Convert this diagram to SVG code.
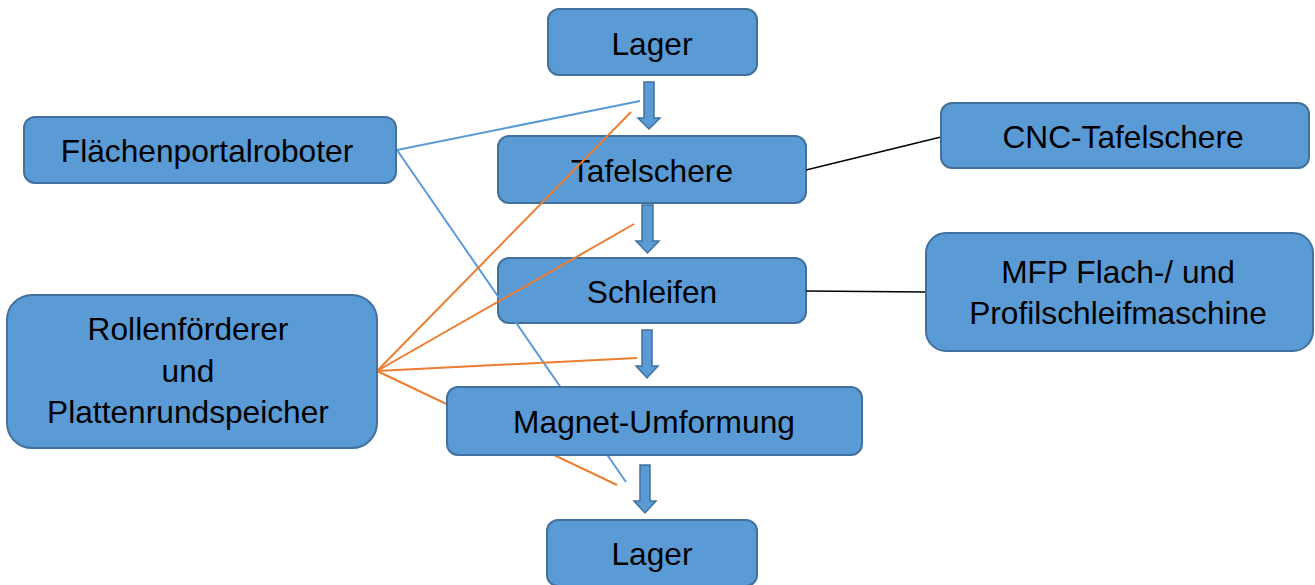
<svg xmlns="http://www.w3.org/2000/svg" width="1315" height="585" viewBox="0 0 1315 585">
  <style>
    .box { fill: #5B9BD5; stroke: #41719C; stroke-width: 2; }
    .flow { fill: #5B9BD5; stroke: #41719C; stroke-width: 1.5; }
    .lbl { font-family: "Liberation Sans", Arial, sans-serif; font-size: 31.7px; fill: #000; text-anchor: middle; }
    .orange { stroke: #ED7D31; stroke-width: 2; fill: none; }
    .blue { stroke: #5B9BD5; stroke-width: 2; fill: none; }
    .black { stroke: #000; stroke-width: 1.3; fill: none; }
  </style>
  <rect width="1315" height="585" fill="#fff"/>

  <!-- process steps (below the assignment lines) -->
  <g id="lager-top">
    <rect class="box" x="548" y="9" width="209" height="66" rx="11"/>
    <text class="lbl" x="652" y="55">Lager</text>
  </g>
  <g id="tafelschere">
    <rect class="box" x="498" y="136" width="308" height="67" rx="11"/>
    <text class="lbl" x="652" y="182">Tafelschere</text>
  </g>
  <g id="schleifen">
    <rect class="box" x="498" y="258" width="308" height="65" rx="11"/>
    <text class="lbl" x="652" y="303">Schleifen</text>
  </g>

  <!-- flow arrows between steps -->
  <g id="flow-arrows">
    <path class="flow" d="M644,82 H654 V118 H660 L649,129 L638,118 H644 Z"/>
    <path class="flow" d="M642,205 H653 V241 H659 L647.5,253 L636,241 H642 Z"/>
    <path class="flow" d="M642,330 H652 V366 H658 L647,378 L636,366 H642 Z"/>
    <path class="flow" d="M640,465 H650 V501 H656 L645,513 L634,501 H640 Z"/>
  </g>

  <!-- assignment lines: machines to process steps -->
  <g id="connectors">
    <line class="blue" x1="397" y1="150" x2="640" y2="101"/>
    <line class="blue" x1="397" y1="150" x2="626" y2="482"/>
    <line class="orange" x1="377" y1="371" x2="631" y2="112"/>
    <line class="orange" x1="377" y1="371" x2="634" y2="224"/>
    <line class="orange" x1="377" y1="371" x2="637" y2="358"/>
    <line class="orange" x1="377" y1="371" x2="617" y2="485"/>
    <line class="black" x1="806" y1="170" x2="941" y2="137"/>
    <line class="black" x1="806" y1="291" x2="926" y2="292"/>
  </g>

  <g id="magnet-umformung">
    <rect class="box" x="447" y="387" width="415" height="68" rx="11"/>
    <text class="lbl" x="654" y="433">Magnet-Umformung</text>
  </g>
  <g id="lager-bottom">
    <rect class="box" x="547" y="520" width="210" height="66" rx="11"/>
    <text class="lbl" x="652" y="565">Lager</text>
  </g>

  <!-- machines -->
  <g id="flaechenportalroboter">
    <rect class="box" x="24" y="117" width="372" height="66" rx="11"/>
    <text class="lbl" x="207" y="162">Flächenportalroboter</text>
  </g>
  <g id="rollenfoerderer">
    <rect class="box" x="7" y="295" width="370" height="153" rx="25"/>
    <text class="lbl" x="188" y="340">Rollenförderer</text>
    <text class="lbl" x="188" y="382">und</text>
    <text class="lbl" x="188" y="423">Plattenrundspeicher</text>
  </g>
  <g id="cnc-tafelschere">
    <rect class="box" x="941" y="103" width="368" height="65" rx="11"/>
    <text class="lbl" x="1123" y="148">CNC-Tafelschere</text>
  </g>
  <g id="mfp-schleifmaschine">
    <rect class="box" x="926" y="233" width="387" height="118" rx="20"/>
    <text class="lbl" x="1118" y="283">MFP Flach-/ und</text>
    <text class="lbl" x="1118" y="324">Profilschleifmaschine</text>
  </g>
</svg>
